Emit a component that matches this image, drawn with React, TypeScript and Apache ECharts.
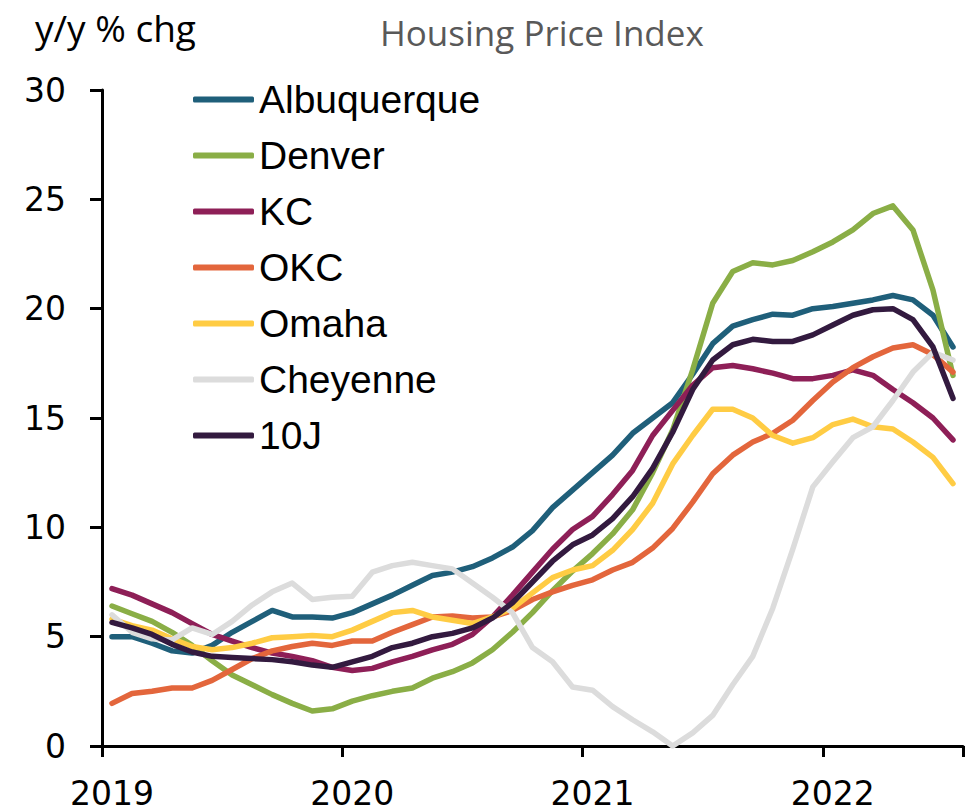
import React, { useEffect, useRef } from "react";
import * as echarts from "echarts";

// Monthly categories, Jan 2019 .. Jul 2022
const years = [2019, 2020, 2021, 2022];
const months: string[] = [];
years.forEach((y) => {
  for (let m = 1; m <= 12; m++) {
    if (y === 2022 && m > 7) break;
    months.push(`${y}-${String(m).padStart(2, "0")}`);
  }
});

const seriesNames = ["Albuquerque", "Denver", "KC", "OKC", "Omaha", "Cheyenne", "10J"];
const seriesColors = ["#1F5F7A", "#8AAE46", "#8E1F57", "#E3663C", "#FFCC44", "#DCDCDC", "#331A3F"];

const albuquerque = [5.0, 5.0, 4.7, 4.35, 4.25, 4.6, 5.2, 5.7, 6.2, 5.9, 5.9, 5.85, 6.1, 6.5, 6.9, 7.35, 7.8, 7.95, 8.2, 8.6, 9.1, 9.85, 10.9, 11.7, 12.5, 13.3, 14.3, 15.0, 15.7, 17.0, 18.4, 19.2, 19.5, 19.75, 19.7, 20.0, 20.1, 20.25, 20.4, 20.6, 20.4, 19.7, 18.25];
const denver = [6.4, 6.05, 5.7, 5.2, 4.6, 3.9, 3.25, 2.8, 2.35, 1.95, 1.6, 1.7, 2.05, 2.3, 2.5, 2.65, 3.1, 3.4, 3.8, 4.4, 5.2, 6.1, 7.1, 8.0, 8.8, 9.7, 10.8, 12.5, 14.45, 17.2, 20.25, 21.7, 22.1, 22.0, 22.2, 22.6, 23.05, 23.6, 24.35, 24.7, 23.6, 20.85, 16.95];
const kc = [7.2, 6.9, 6.5, 6.1, 5.6, 5.1, 4.8, 4.5, 4.25, 4.1, 3.9, 3.6, 3.45, 3.55, 3.85, 4.1, 4.4, 4.65, 5.1, 5.9, 6.9, 7.95, 9.0, 9.9, 10.5, 11.5, 12.6, 14.2, 15.35, 16.5, 17.3, 17.4, 17.25, 17.05, 16.8, 16.8, 16.95, 17.2, 16.95, 16.3, 15.7, 15.0, 14.0];
const okc = [1.95, 2.4, 2.5, 2.65, 2.65, 3.0, 3.5, 4.0, 4.35, 4.55, 4.7, 4.6, 4.8, 4.8, 5.2, 5.55, 5.9, 5.95, 5.85, 5.9, 6.2, 6.7, 7.05, 7.35, 7.6, 8.05, 8.4, 9.05, 9.95, 11.15, 12.45, 13.3, 13.9, 14.3, 14.9, 15.8, 16.65, 17.3, 17.8, 18.2, 18.35, 17.9, 17.1];
const omaha = [5.8, 5.5, 5.3, 4.9, 4.55, 4.4, 4.5, 4.7, 4.95, 5.0, 5.05, 5.0, 5.3, 5.7, 6.1, 6.2, 5.9, 5.75, 5.6, 5.9, 6.3, 7.0, 7.7, 8.05, 8.25, 8.95, 9.9, 11.1, 12.9, 14.2, 15.4, 15.4, 15.0, 14.2, 13.85, 14.1, 14.7, 14.95, 14.6, 14.5, 13.9, 13.2, 12.0];
const cheyenne = [6.0, 5.2, 4.9, 4.85, 5.4, 5.1, 5.7, 6.45, 7.05, 7.45, 6.7, 6.8, 6.85, 7.95, 8.25, 8.4, 8.25, 8.1, 7.45, 6.8, 6.1, 4.5, 3.85, 2.7, 2.55, 1.8, 1.2, 0.65, 0.0, 0.6, 1.4, 2.8, 4.1, 6.3, 9.0, 11.85, 13.0, 14.1, 14.6, 15.8, 17.1, 18.0, 17.65];
const tenJ = [5.65, 5.4, 5.1, 4.65, 4.3, 4.1, 4.05, 4.0, 3.95, 3.85, 3.7, 3.6, 3.85, 4.1, 4.5, 4.7, 5.0, 5.15, 5.4, 5.85, 6.55, 7.5, 8.45, 9.2, 9.65, 10.4, 11.4, 12.7, 14.35, 16.3, 17.65, 18.35, 18.6, 18.5, 18.5, 18.8, 19.25, 19.7, 19.95, 20.0, 19.5, 18.25, 15.9];

const seriesData = [albuquerque, denver, kc, okc, omaha, cheyenne, tenJ];

const yTitle = "y/y % chg";
const chartTitle = "Housing Price Index";

export default function App() {
  const ref = useRef<HTMLDivElement>(null);
  useEffect(() => {
    document.body.style.margin = "0";
    if (!ref.current) return;
    const chart = echarts.init(ref.current, undefined, { renderer: "svg" });
    const axisFont = "DejaVu Sans";
    chart.setOption({
      animation: false,
      backgroundColor: "#ffffff",
      grid: { left: 102, right: 12, top: 90, bottom: 66, containLabel: false },
      graphic: [
        {
          type: "text",
          left: 35,
          top: 9,
          style: { text: yTitle, fontSize: 37, fontFamily: "Open Sans", fill: "#000" },
        },
        {
          type: "text",
          left: 380,
          top: 15,
          style: { text: chartTitle, fontSize: 35, fontFamily: "Open Sans", fill: "#595959" },
        },
      ],
      legend: {
        orient: "vertical",
        left: 188,
        top: 75,
        padding: 5,
        icon: "roundRect",
        itemWidth: 61,
        itemHeight: 6,
        itemGap: 17,
        data: seriesNames,
        textStyle: { fontSize: 39, fontFamily: "Liberation Sans", color: "#000", lineHeight: 38 },
      },
      xAxis: {
        type: "category",
        data: months,
        boundaryGap: true,
        axisLine: { show: true, lineStyle: { color: "#000", width: 3 } },
        axisTick: {
          show: true,
          interval: (i: number) => i % 12 === 0,
          length: 11,
          lineStyle: { color: "#000", width: 3 },
        },
        axisLabel: {
          interval: (i: number) => i % 12 === 0,
          formatter: (v: string) => v.slice(0, 4),
          color: "#000",
          fontSize: 33,
          fontFamily: axisFont,
          margin: 31,
        },
        splitLine: { show: false },
      },
      yAxis: {
        type: "value",
        min: 0,
        max: 30,
        interval: 5,
        axisLine: { show: true, lineStyle: { color: "#000", width: 3 } },
        axisTick: { show: true, length: 12, lineStyle: { color: "#000", width: 3 } },
        axisLabel: { color: "#000", fontSize: 33, fontFamily: axisFont, margin: 36 },
        splitLine: { show: false },
      },
      series: seriesNames.map((name, i) => ({
        name,
        type: "line",
        data: seriesData[i],
        showSymbol: false,
        symbol: "none",
        color: seriesColors[i],
        itemStyle: { color: seriesColors[i] },
        lineStyle: { width: 5.5, color: seriesColors[i], cap: "round", join: "round" },
        z: 2 + i,
      })),
    });
    return () => chart.dispose();
  }, []);
  return <div ref={ref} style={{ width: 975, height: 812 }} />;
}
